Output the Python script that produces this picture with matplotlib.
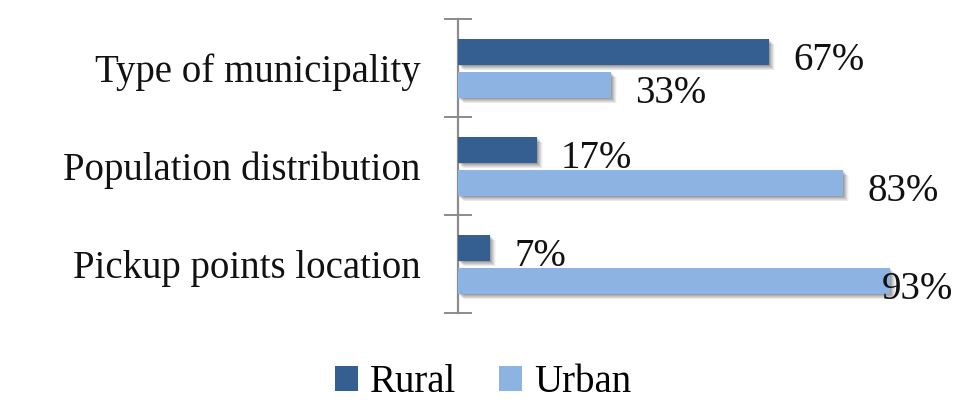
import matplotlib
matplotlib.use("Agg")
import matplotlib.pyplot as plt
import matplotlib.patheffects as pe

categories = ["Type of municipality", "Population distribution", "Pickup points location"]
rural = [0.67, 0.17, 0.07]
urban = [0.33, 0.83, 0.93]
rural_labels = ["67%", "17%", "7%"]
urban_labels = ["33%", "83%", "93%"]
series_names = ["Rural", "Urban"]

DARK = "#365f91"
LIGHT = "#8db3e2"
AXC = "#8c8c8c"

plt.rcParams['font.family'] = ['Liberation Serif', 'DejaVu Serif']
FS = 28

W, H = 956, 408
fig = plt.figure(figsize=(W / 100, H / 100), dpi=100)
ax = fig.add_axes([458 / W, (H - 313) / H, 464 / W, (313 - 19) / H])

n = len(categories)
pos = [n - 1 - i for i in range(n)]
bh = 0.265
shadow = []
for dx, dy, a in [(1, -1, 0.10), (2, -2, 0.10), (3, -3, 0.09), (4, -4, 0.07), (5, -5, 0.05), (6, -5, 0.03)]:
    shadow.append(pe.SimplePatchShadow(offset=(dx * 0.72, dy * 0.72), shadow_rgbFace="#000000", alpha=a))
shadow.append(pe.Normal())

b1 = ax.barh([p + 0.165 for p in pos], rural, height=bh, color=DARK, zorder=3, label=series_names[0])
b2 = ax.barh([p - 0.175 for p in pos], urban, height=bh, color=LIGHT, zorder=3, label=series_names[1])
for b in list(b1) + list(b2):
    b.set_path_effects(shadow)

ax.set_xlim(0, 1)
ax.set_ylim(-0.5, n - 0.5)

px_per_unit = 464.0
max_px = 424.0
def add_labels(bars, labels):
    for b, lab in zip(bars, labels):
        end_px = b.get_width() * px_per_unit
        off_px = min(24.0, max_px - end_px)
        ax.annotate(lab, xy=(b.get_width(), b.get_y() + b.get_height() / 2),
                    xytext=(off_px * 0.72, -6), textcoords="offset points",
                    ha="left", va="center", fontsize=FS, color="#111111",
                    zorder=5, annotation_clip=False)
add_labels(b1, rural_labels)
add_labels(b2, urban_labels)

for s in ["top", "right", "bottom"]:
    ax.spines[s].set_visible(False)
ax.spines["left"].set_color(AXC)
ax.spines["left"].set_linewidth(1.6)
ax.set_xticks([])
ax.set_yticks([i - 0.5 for i in range(n + 1)])
ax.set_yticklabels([])
ax.tick_params(axis="y", which="major", direction="inout", length=19.5, width=1.4, color=AXC)
ax.set_yticks(pos, minor=True)
ax.set_yticklabels(categories, minor=True, fontsize=FS, color="#111111")
ax.tick_params(axis="y", which="minor", length=0, pad=27)

leg = fig.legend(handles=[b1, b2], labels=series_names, loc="lower center",
                 bbox_to_anchor=(483 / W, -0.04), ncol=2, frameon=False, fontsize=FS,
                 handlelength=0.6, handleheight=0.6, handletextpad=0.3, columnspacing=1.1,
                 borderpad=0.1)
for h in leg.legend_handles:
    h.set_path_effects([])

fig.savefig("out.png", dpi=100)
